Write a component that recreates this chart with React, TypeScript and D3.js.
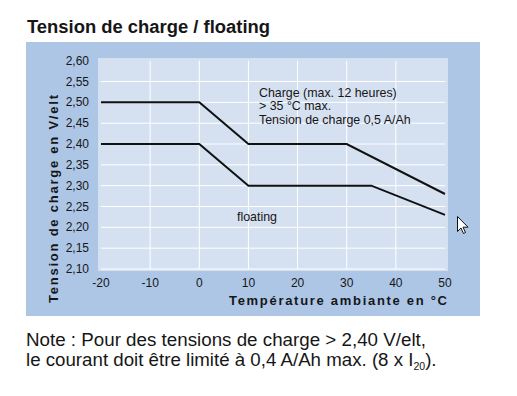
import * as d3 from "d3";

// Temperature (°C) / voltage (V/elt) breakpoints
const chargeTemps = [-20, 0, 10, 30, 50];
const chargeVolts = [2.5, 2.5, 2.4, 2.4, 2.28];
const floatTemps = [-20, 0, 10, 35, 50];
const floatVolts = [2.4, 2.4, 2.3, 2.3, 2.23];

const xTicks = [-20, -10, 0, 10, 20, 30, 40, 50];
const yTicks = [2.1, 2.15, 2.2, 2.25, 2.3, 2.35, 2.4, 2.45, 2.5, 2.55, 2.6];

const chargeNote = ["Charge (max. 12 heures)", "> 35 °C max.", "Tension de charge 0,5 A/Ah"];

const FONT = "'Liberation Sans', Arial, Helvetica, sans-serif";
const OUTER = "#adc6e6";
const INNER = "#d5e1f1";
const INK = "#161616";

const fmt = (v: number) => v.toFixed(2).replace(".", ",");

export default function App() {
  const x = d3.scaleLinear().domain([-20, 50]).range([101, 445]);
  const y = d3.scaleLinear().domain([2.1, 2.6]).range([269, 60.7]);

  const line = d3
    .line<[number, number]>()
    .x((d) => x(d[0]))
    .y((d) => y(d[1]));

  const charge = chargeTemps.map((t, i) => [t, chargeVolts[i]] as [number, number]);
  const floating = floatTemps.map((t, i) => [t, floatVolts[i]] as [number, number]);

  return (
    <svg
      width={517}
      height={396}
      style={{ position: "absolute", left: 0, top: 0, background: "#fff" }}
      fontFamily={FONT}
    >
      <text x={27} y={33} fontSize={18} fontWeight="bold" fill={INK} textLength={243} lengthAdjust="spacingAndGlyphs">
        Tension de charge / floating
      </text>

      {/* panels */}
      <rect x={26} y={42} width={454} height={274} fill={OUTER} />
      <rect x={98} y={58} width={350} height={213} fill={INNER} />

      {/* grid */}
      {yTicks.filter((t) => t < 2.59).map((t) => (
        <line key={t} x1={x(-20)} x2={x(50)} y1={y(t)} y2={y(t)} stroke="#fff" strokeWidth={1} />
      ))}
      {xTicks.filter((t) => t > -20 && t < 50).map((t) => (
        <line key={t} x1={x(t)} x2={x(t)} y1={y(2.6)} y2={y(2.1)} stroke="#fff" strokeWidth={1} />
      ))}

      {/* curves */}
      <path d={line(charge) ?? ""} fill="none" stroke="#111" strokeWidth={2} />
      <path d={line(floating) ?? ""} fill="none" stroke="#111" strokeWidth={2} />

      {/* y ticks */}
      {yTicks.map((t) => (
        <text key={t} x={89} y={y(t) + 4} fontSize={12} textAnchor="end" fill={INK}>
          {fmt(t)}
        </text>
      ))}
      {/* x ticks */}
      {xTicks.map((t) => (
        <text key={t} x={x(t)} y={287} fontSize={12} textAnchor="middle" fill={INK}>
          {t}
        </text>
      ))}

      {/* axis titles */}
      <text x={229} y={305} fontSize={13} fontWeight="bold" fill={INK} textLength={218} lengthAdjust="spacing">
        Température ambiante en °C
      </text>
      <text
        transform={`translate(58,303) rotate(-90)`}
        fontSize={13}
        fontWeight="bold"
        fill={INK}
        textLength={208}
        lengthAdjust="spacing"
      >
        Tension de charge en V/elt
      </text>

      {/* annotations */}
      {chargeNote.map((s, i) => (
        <text key={s} x={259} y={96.5 + i * 13.8} fontSize={12.4} fill={INK}>
          {s}
        </text>
      ))}
      <text x={237} y={220.5} fontSize={12.4} fill={INK}>
        floating
      </text>

      {/* mouse pointer captured in the screenshot */}
      <path
        d="M457.5,216.5 v15 l3.5,-3.5 l2.5,5.5 l2,-1 l-2.5,-5.3 h5 z"
        fill="#fff"
        stroke="#111"
        strokeWidth={1}
        strokeLinejoin="round"
      />

      {/* note below chart */}
      <text x={26} y={346} fontSize={18.7} fill={INK} textLength={400} lengthAdjust="spacingAndGlyphs">
        Note : Pour des tensions de charge &gt; 2,40 V/elt,
      </text>
      <text x={26} y={366} fontSize={18.7} fill={INK}>
        le courant doit être limité à 0,4 A/Ah max. (8 x I
        <tspan fontSize={10.5} dy={4}>20</tspan>
        <tspan dy={-4}>).</tspan>
      </text>
    </svg>
  );
}
